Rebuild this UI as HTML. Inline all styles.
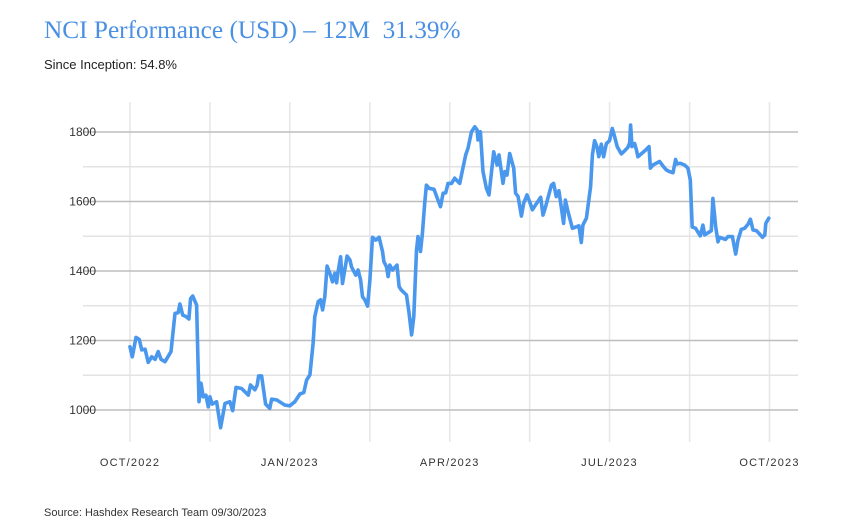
<!DOCTYPE html>
<html><head><meta charset="utf-8"><style>
body{margin:0;background:#fff;width:859px;height:528px;overflow:hidden;font-family:"Liberation Sans",sans-serif}
#title{position:absolute;left:44px;top:16px;font-family:"Liberation Serif",serif;font-size:25.3px;color:#4a90e2;white-space:pre}
#sub{position:absolute;left:44px;top:57px;font-size:13px;color:#222}
#src{position:absolute;left:44px;top:507px;font-size:11px;color:#333}
svg{position:absolute;left:0;top:0}
</style></head><body>
<div id="title">NCI Performance (USD) – 12M  31.39%</div>
<div id="sub">Since Inception: 54.8%</div>
<div id="src">Source: Hashdex Research Team 09/30/2023</div>
<svg id="chart" width="859" height="528"></svg>
<script>
const yTicks=[1000,1100,1200,1300,1400,1500,1600,1700,1800];
const xTickDays=[0,45.6,91.2,136.9,182.5,228.1,273.7,319.4,365];
const xTickLabels=["OCT/2022","JAN/2023","APR/2023","JUL/2023","OCT/2023"];
const days=[0,1.3,3.4,5.3,6.7,8.6,10.4,12.4,14.3,16.1,17.7,20,23.4,25.7,27.5,28.5,30.1,31.9,33.6,34.6,35.8,38,39.4,40.5,41.8,43.3,44.7,45.6,46.9,49.4,51.7,54.2,57,58.6,60.5,63.7,67.5,68.8,71.3,72.6,73.4,75.1,77.4,79.8,80.8,83.7,88.4,91.2,94.1,97,99.2,100.8,102.7,104.5,105.5,107.4,108.8,109.9,111.2,112.5,114.1,115.6,116.9,117.9,118.8,120.2,121.3,123.9,125.5,126.4,128.9,130.2,131.6,132.7,134,135.6,136.9,138.4,140.3,142.2,144.1,144.9,146.4,147.3,148.3,149.8,152.4,153.6,154.9,157.8,159.3,160.7,162,163.5,164.4,165.8,166.9,168.2,169.2,170.7,173.5,175.8,177.2,178.7,180.2,181.5,183.5,185.3,188.2,191.6,192.9,194.9,196.8,198.1,198.6,200,201.5,203.4,204.9,207.6,209.5,210.6,212.9,213.9,215.2,216.7,219,220.1,221.5,223.4,224.7,226.6,228.1,229.7,234.4,235.7,237.2,240.5,241.8,243.3,244.8,247.5,248.5,250,252.5,256.2,257.6,258.5,260.5,262.9,263.9,265.2,266.5,267.6,269,270.3,271.9,273.7,275.3,276.6,278.1,280.4,282.3,284.2,285.2,285.7,286.5,288,289,289.9,294.3,296.2,297,298.5,302.3,304.2,306.1,308,309.9,311.4,312.2,314.1,316.5,318.4,319.8,320.9,322.8,325.5,327,328,329.9,331.8,332.7,334.3,335.6,336.5,339.9,341.3,343.8,345.7,347,348.9,350.8,352.8,354.1,355.6,357.6,361,362.3,362.9,364.6];
const values=[1182,1153,1209,1203,1173,1175,1137,1153,1146,1168,1146,1139,1168,1278,1280,1305,1273,1269,1262,1321,1328,1302,1024,1077,1038,1043,1009,1038,1017,1024,949,1019,1024,998,1065,1062,1043,1072,1058,1072,1098,1098,1017,1005,1031,1029,1014,1012,1024,1046,1050,1086,1101,1192,1269,1312,1317,1288,1326,1414,1393,1369,1393,1366,1398,1441,1364,1443,1432,1412,1388,1403,1374,1326,1317,1299,1374,1497,1489,1497,1456,1427,1412,1384,1417,1403,1417,1355,1345,1331,1278,1216,1269,1460,1499,1456,1508,1595,1647,1638,1635,1604,1585,1624,1625,1652,1652,1667,1652,1734,1753,1801,1815,1806,1777,1801,1686,1638,1619,1743,1705,1734,1652,1686,1676,1738,1696,1624,1614,1558,1595,1619,1600,1576,1612,1561,1585,1647,1652,1614,1631,1537,1604,1571,1523,1530,1482,1532,1552,1643,1734,1775,1758,1729,1765,1729,1767,1775,1810,1787,1758,1737,1746,1756,1769,1820,1758,1767,1750,1729,1748,1758,1696,1705,1715,1702,1691,1686,1683,1721,1708,1710,1705,1696,1662,1527,1523,1501,1532,1504,1510,1516,1609,1527,1484,1497,1491,1499,1499,1449,1489,1520,1523,1535,1549,1518,1516,1497,1504,1537,1552];
const svg=document.getElementById('chart');
const NS='http://www.w3.org/2000/svg';
const X0=130,X1=769.5,Y0=410,Y1=132;
const xs=d=>X0+d*(X1-X0)/365;
const ys=v=>Y0-(v-1000)*(Y0-Y1)/800;
function mk(t,a){const e=document.createElementNS(NS,t);for(const k in a)e.setAttribute(k,a[k]);svg.appendChild(e);return e;}
xTickDays.forEach(d=>{
  const l=mk('line',{x1:xs(d),x2:xs(d),y1:102,y2:442,stroke:'#e6e6e6','stroke-width':1.5});
  
  
});
yTicks.forEach(v=>{
  const major=(v%200===0);
  const l=mk('line',{x1:83,x2:798,y1:ys(v),y2:ys(v),stroke:major?'#bdbdbd':'#e3e3e3','stroke-width':1.5});
  
  
  if(major){
    const t=mk('text',{x:96,y:ys(v)+4,'text-anchor':'end','font-size':12,fill:'#333','font-family':'Liberation Sans, sans-serif'});
    t.textContent=v;
    
    
  }
});
xTickLabels.forEach((s,i)=>{
  const t=mk('text',{x:xs(xTickDays[i*2]),y:466,'text-anchor':'middle','font-size':11,fill:'#333','letter-spacing':'1.2','font-family':'Liberation Sans, sans-serif'});
  t.textContent=s;
  
  
});
let d='';
days.forEach((dd,i)=>{d+=(i?'L':'M')+xs(dd).toFixed(1)+','+ys(values[i]).toFixed(1);});
const p=mk('path',{d:d,fill:'none',stroke:'#4a97ee','stroke-width':3.6,'stroke-linejoin':'round','stroke-linecap':'round'});


</script>
</body></html>
